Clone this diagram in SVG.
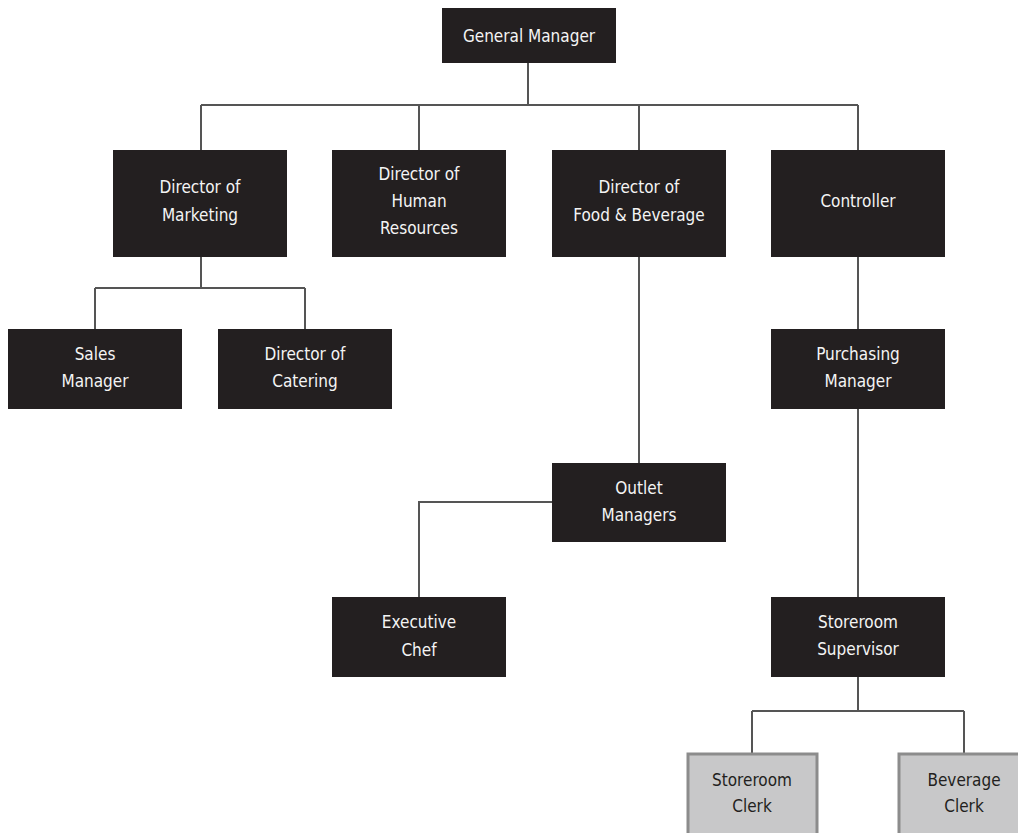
<svg xmlns="http://www.w3.org/2000/svg" width="1018" height="833" viewBox="0 0 1018 833">
<style>
.box{fill:#231f20}
.gbox{fill:#c8c8c9;stroke:#8c8c8c;stroke-width:3}
.t{font-family:"DejaVu Sans Condensed","DejaVu Sans",sans-serif;font-stretch:condensed;font-size:17px;fill:#f4f4f4;text-anchor:middle}
.gt{fill:#231f20}
.c{fill:none;stroke:#555;stroke-width:2}
</style>
<rect width="1018" height="833" fill="#fff"/>
<g id="connectors">
<path class="c" d="M528 63V105M201 105H858M201 105V150M419 105V150M639 105V150M858 105V150"/>
<path class="c" d="M201 257V288M95 288H305M95 288V329M305 288V329"/>
<path class="c" d="M639 257V463M552 502H419V597"/>
<path class="c" d="M858 257V329M858 409V597M858 677V711M752 711H964M752 711V753M964 711V753"/>
</g>
<g id="general-manager"><rect class="box" x="442" y="8" width="174" height="55"/><text class="t" x="529" y="42">General Manager</text></g>
<g id="dir-marketing"><rect class="box" x="113" y="150" width="174" height="107"/><text class="t" x="200" y="193">Director of</text><text class="t" x="200" y="221">Marketing</text></g>
<g id="dir-hr"><rect class="box" x="332" y="150" width="174" height="107"/><text class="t" x="419" y="180">Director of</text><text class="t" x="419" y="207">Human</text><text class="t" x="419" y="234">Resources</text></g>
<g id="dir-fb"><rect class="box" x="552" y="150" width="174" height="107"/><text class="t" x="639" y="193">Director of</text><text class="t" x="639" y="221">Food &amp; Beverage</text></g>
<g id="controller"><rect class="box" x="771" y="150" width="174" height="107"/><text class="t" x="858" y="207">Controller</text></g>
<g id="sales-manager"><rect class="box" x="8" y="329" width="174" height="80"/><text class="t" x="95" y="360">Sales</text><text class="t" x="95" y="387">Manager</text></g>
<g id="dir-catering"><rect class="box" x="218" y="329" width="174" height="80"/><text class="t" x="305" y="360">Director of</text><text class="t" x="305" y="387">Catering</text></g>
<g id="purchasing-manager"><rect class="box" x="771" y="329" width="174" height="80"/><text class="t" x="858" y="360">Purchasing</text><text class="t" x="858" y="387">Manager</text></g>
<g id="outlet-managers"><rect class="box" x="552" y="463" width="174" height="79"/><text class="t" x="639" y="494">Outlet</text><text class="t" x="639" y="521">Managers</text></g>
<g id="executive-chef"><rect class="box" x="332" y="597" width="174" height="80"/><text class="t" x="419" y="628">Executive</text><text class="t" x="419" y="656">Chef</text></g>
<g id="storeroom-supervisor"><rect class="box" x="771" y="597" width="174" height="80"/><text class="t" x="858" y="628">Storeroom</text><text class="t" x="858" y="655">Supervisor</text></g>
<g id="storeroom-clerk"><rect class="gbox" x="688" y="754" width="129" height="90"/><text class="t gt" x="752" y="786">Storeroom</text><text class="t gt" x="752" y="812">Clerk</text></g>
<g id="beverage-clerk"><rect class="gbox" x="899" y="754" width="129" height="90"/><text class="t gt" x="964" y="786">Beverage</text><text class="t gt" x="964" y="812">Clerk</text></g>
</svg>
